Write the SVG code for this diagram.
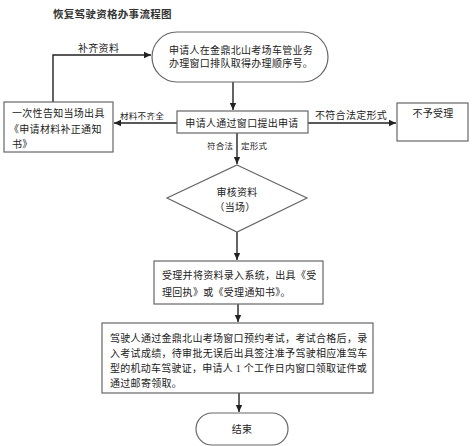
<svg xmlns="http://www.w3.org/2000/svg" width="473" height="446" viewBox="0 0 473 446">
<style>
text{font-family:"Liberation Serif","Noto Sans CJK SC",serif;font-size:10px;fill:#222;letter-spacing:0.3px}
.box{fill:#fff;stroke:#666;stroke-width:1.2}
.con{fill:none;stroke:#222;stroke-width:1.4}
.sm{font-size:8.5px}
.mid{text-anchor:middle}
.title{font-size:10.5px;font-weight:bold;fill:#333}
</style>
<defs>
<marker id="ah" markerUnits="userSpaceOnUse" markerWidth="8" markerHeight="8" refX="7" refY="4" orient="auto">
<path d="M0,0.8 L7,4 L0,7.2 Z" fill="#222"/>
</marker>
</defs>
<rect width="473" height="446" fill="#fff"/>
<text class="title" x="53" y="18">恢复驾驶资格办事流程图</text>

<g id="connectors">
<line class="con" x1="233" y1="82" x2="233" y2="110" marker-end="url(#ah)"/>
<line class="con" x1="177" y1="123" x2="114" y2="123" marker-end="url(#ah)"/>
<line class="con" x1="308" y1="123" x2="396" y2="123" marker-end="url(#ah)"/>
<polyline class="con" points="53,102 53,55 151,55" marker-end="url(#ah)"/>
<line class="con" x1="237" y1="133" x2="237" y2="164" marker-end="url(#ah)"/>
<line class="con" x1="237" y1="232" x2="237" y2="260" marker-end="url(#ah)"/>
<line class="con" x1="238" y1="304" x2="238" y2="322" marker-end="url(#ah)"/>
<line class="con" x1="239" y1="393" x2="239" y2="412" marker-end="url(#ah)"/>
<text x="78" y="52">补齐资料</text>
<text class="sm mid" x="142" y="119">材料不齐全</text>
<text x="315" y="119">不符合法定形式</text>
<text class="sm" x="207" y="149">符合法</text>
<text class="sm" x="241" y="149">定形式</text>
</g>

<g id="start">
<rect class="box" x="152" y="32" width="176" height="50" rx="25" ry="25"/>
<text class="mid" x="241" y="54">申请人在金鼎北山考场车管业务</text>
<text class="mid" x="241" y="67">办理窗口排队取得办理顺序号。</text>
</g>

<g id="apply">
<rect class="box" x="177" y="111" width="131" height="22"/>
<text class="mid" x="242" y="127">申请人通过窗口提出申请</text>
</g>

<g id="notify">
<rect class="box" x="4" y="102" width="109" height="50"/>
<text x="12" y="117">一次性告知当场出具</text>
<text x="9" y="133">《申请材料补正通知</text>
<text x="12" y="148">书》</text>
</g>

<g id="reject">
<rect class="box" x="397" y="103" width="71" height="38"/>
<text class="mid" x="433" y="117">不予受理</text>
</g>

<g id="review">
<polygon class="box" points="237,165 307,198 237,232 167,198"/>
<text class="mid" x="237" y="196">审核资料</text>
<text class="mid" x="235" y="211">（当场）</text>
</g>

<g id="accept">
<rect class="box" x="154" y="261" width="169" height="43"/>
<text x="162" y="279">受理并将资料录入系统，出具《受</text>
<text x="162" y="296">理回执》或《受理通知书》。</text>
</g>

<g id="exam">
<rect class="box" x="102" y="323" width="271" height="70"/>
<text x="110" y="342">驾驶人通过金鼎北山考场窗口预约考试，考试合格后，录</text>
<text x="110" y="357">入考试成绩，待审批无误后出具签注准予驾驶相应准驾车</text>
<text x="110" y="372" textLength="257" lengthAdjust="spacing">型的机动车驾驶证，申请人 1 个工作日内窗口领取证件或</text>
<text x="110" y="387">通过邮寄领取。</text>
</g>

<g id="end">
<rect class="box" x="196" y="413" width="92" height="32" rx="16" ry="16"/>
<text class="mid" x="242" y="433">结束</text>
</g>
</svg>
